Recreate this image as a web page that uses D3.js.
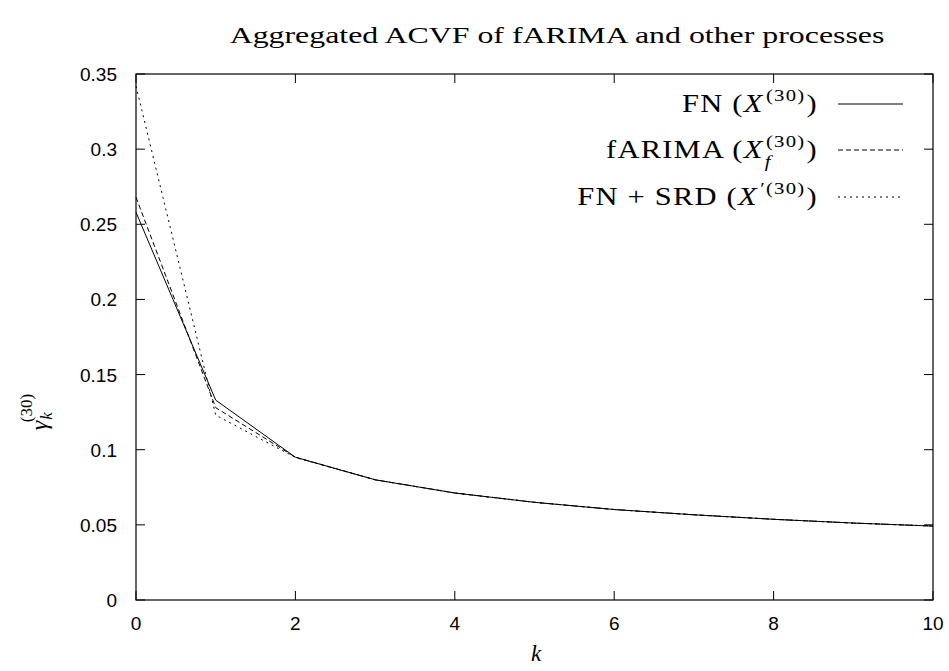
<!DOCTYPE html>
<html><head><meta charset="utf-8">
<script src="https://cdn.jsdelivr.net/npm/d3@7"></script>
<style>body{margin:0;background:#fff}</style>
</head><body>
<svg id="c" width="949" height="671"></svg>
<script>
const ks = [0,1,2,3,4,5,6,7,8,9,10];
const fn     = [0.258,0.133,0.0950,0.0800,0.0712,0.0650,0.0602,0.0567,0.0537,0.0512,0.0492];
const farima = [0.268,0.128,0.0950,0.0800,0.0712,0.0650,0.0602,0.0567,0.0537,0.0512,0.0492];
const fnsrd  = [0.342,0.123,0.0948,0.0800,0.0712,0.0650,0.0602,0.0567,0.0537,0.0512,0.0492];
const xTicks = [0,2,4,6,8,10];
const yTicks = [0,0.05,0.1,0.15,0.2,0.25,0.3,0.35];
const seriesNames = ["FN","fARIMA","FN + SRD"];

const svg = d3.select("#c");
const L=136,R=933,T=74,B=600;
const x = d3.scaleLinear().domain([0,10]).range([L,R]);
const y = d3.scaleLinear().domain([0,0.35]).range([B,T]);
const sans = "'Liberation Sans', Arial, sans-serif";
const serif = "'Liberation Serif', 'Times New Roman', serif";

svg.append("rect").attr("x",L).attr("y",T).attr("width",R-L).attr("height",B-T)
  .attr("fill","none").attr("stroke","#000").attr("stroke-width",1.2);

const tl=9;
xTicks.forEach(v=>{
  svg.append("line").attr("x1",x(v)).attr("x2",x(v)).attr("y1",B).attr("y2",B-tl).attr("stroke","#000");
  svg.append("line").attr("x1",x(v)).attr("x2",x(v)).attr("y1",T).attr("y2",T+tl).attr("stroke","#000");
  svg.append("text").attr("x",x(v)).attr("y",B+30).attr("text-anchor","middle")
    .attr("font-family",sans).attr("font-size",19).text(d3.format("d")(v));
});
yTicks.forEach(v=>{
  svg.append("line").attr("x1",L).attr("x2",L+tl).attr("y1",y(v)).attr("y2",y(v)).attr("stroke","#000");
  svg.append("line").attr("x1",R).attr("x2",R-tl).attr("y1",y(v)).attr("y2",y(v)).attr("stroke","#000");
  svg.append("text").attr("x",L-19).attr("y",y(v)+7).attr("text-anchor","end")
    .attr("font-family",sans).attr("font-size",19).text(v===0?"0":String(v));
});

// title, stretched horizontally like Computer Modern
const tg = svg.append("g");
const title = tg.append("text").attr("x",0).attr("y",0).attr("text-anchor","middle")
  .attr("font-family",serif).attr("font-size",23)
  .text("Aggregated ACVF of fARIMA and other processes");
{ const w = title.node().getComputedTextLength(); tg.attr("transform",`translate(557,43) scale(${655/w},1)`); }

svg.append("text").attr("x",536).attr("y",661).attr("text-anchor","middle")
  .attr("font-family",serif).attr("font-style","italic").attr("font-size",23).text("k");

const yg = svg.append("g").attr("transform","translate(47,412) rotate(-90)").attr("font-family",serif);
const ylt = yg.append("text").attr("x",0).attr("y",0).attr("text-anchor","middle");
ylt.append("tspan").attr("font-style","italic").attr("font-size",24).text("γ");
const yk = ylt.append("tspan").attr("font-style","italic").attr("font-size",17).attr("dx",1).attr("dy",5).text("k");
ylt.append("tspan").attr("font-size",17).attr("dx",-10).attr("dy",-20).text("(30)");

const line = d3.line().x((d,i)=>x(ks[i])).y(d=>y(d));
const styles = [null,"5,3","2,4"];
[fn,farima,fnsrd].forEach((s,i)=>{
  svg.append("path").datum(s).attr("d",line).attr("fill","none").attr("stroke","#000")
    .attr("stroke-width",1).attr("stroke-dasharray",styles[i]);
});

const legY=[104,150,197];
const FS=25, SS=17, SX=1.22;
function legend(i, sup, sub){
  const g = svg.append("g").attr("transform",`translate(818,${legY[i]+8}) scale(${SX},1)`);
  const t = g.append("text").attr("x",0).attr("y",0).attr("text-anchor","end")
    .attr("font-family",serif).attr("font-size",FS).attr("letter-spacing","1px");
  t.append("tspan").text(seriesNames[i]+" (");
  t.append("tspan").attr("font-style","italic").text("X");
  const sp = t.append("tspan").attr("font-size",SS).attr("dx",2).attr("dy",-11).text(sup);
  if(sub){
    const w = sp.node().getComputedTextLength();
    const sb = t.append("tspan").attr("font-size",SS).attr("font-style","italic")
      .attr("dx",-w-1).attr("dy",20).text(sub);
    const fw = sb.node().getComputedTextLength();
    t.append("tspan").attr("dx",w-fw+2).attr("dy",-9).text(")");
  } else {
    t.append("tspan").attr("dx",1).attr("dy",11).text(")");
  }
  svg.append("line").attr("x1",838).attr("x2",903).attr("y1",legY[i]).attr("y2",legY[i])
    .attr("stroke","#000").attr("stroke-width",1).attr("stroke-dasharray",styles[i]);
}
legend(0,"(30)",null);
legend(1,"(30)","f");
legend(2,"′(30)",null);
</script>
</body></html>
